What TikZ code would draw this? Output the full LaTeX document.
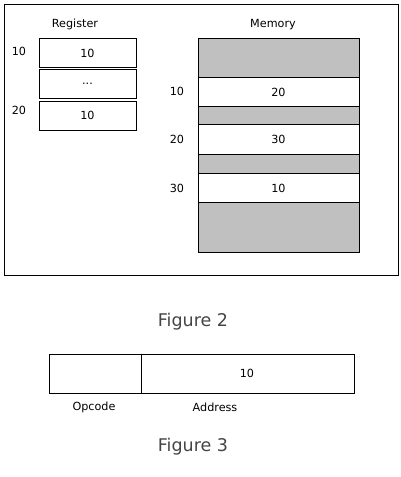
\documentclass[tikz,border=0pt]{standalone}
\usepackage{fontspec}
\setmainfont{DejaVu Sans}
\definecolor{memgray}{HTML}{C0C0C0}
\definecolor{capgray}{HTML}{444444}
\tikzset{
  cell/.style={draw=black, line width=0.9pt, fill=white},
  lbl/.style={inner sep=0pt, font=\fontsize{11.2}{13}\selectfont},
  captxt/.style={inner sep=0pt, text=capgray, font=\fontsize{17.5}{20}\selectfont},
}
\begin{document}
\begin{tikzpicture}[x=1pt,y=-1pt]
\useasboundingbox (0,0) rectangle (400,477);
% outer frame
\draw[line width=0.9pt] (4,4) rectangle (398,275);
% Register
\node[lbl] (reglbl) at (75,24) {Register};
\draw[cell] (39,38) rectangle (136,67);
\node[lbl] (r1) at (87.5,53) {10};
\draw[cell] (39,69) rectangle (136,98);
\node[lbl] (r2) at (87.5,84) {...};
\draw[cell] (39,101) rectangle (136,130);
\node[lbl] (r3) at (87.5,115.5) {10};
\node[lbl] (ra1) at (19,51) {10};
\node[lbl] (ra2) at (19,110) {20};
% Memory
\node[lbl] (memlbl) at (273,25) {Memory};
\draw[line width=0.9pt, fill=memgray] (198,38) rectangle (359,252);
\draw[cell] (198,77) rectangle (359,106);
\node[lbl] (m1) at (278.5,92) {20};
\draw[cell] (198,124) rectangle (359,154);
\node[lbl] (m2) at (278.5,139) {30};
\draw[cell] (198,173) rectangle (359,202);
\node[lbl] (m3) at (278.5,188) {10};
\node[lbl] (ma1) at (177,91) {10};
\node[lbl] (ma2) at (177,139) {20};
\node[lbl] (ma3) at (177,188) {30};
% captions
\node[captxt] (fig2) at (193,322) {Figure 2};
% Figure 3
\draw[cell] (49,354) rectangle (354,393);
\draw[line width=0.9pt] (141,354) -- (141,393);
\node[lbl] (addr) at (247,373) {10};
\node[lbl] (opc) at (94,407) {Opcode};
\node[lbl] (adl) at (215,407) {Address};
\node[captxt] (fig3) at (193,447) {Figure 3};
\end{tikzpicture}
\end{document}
